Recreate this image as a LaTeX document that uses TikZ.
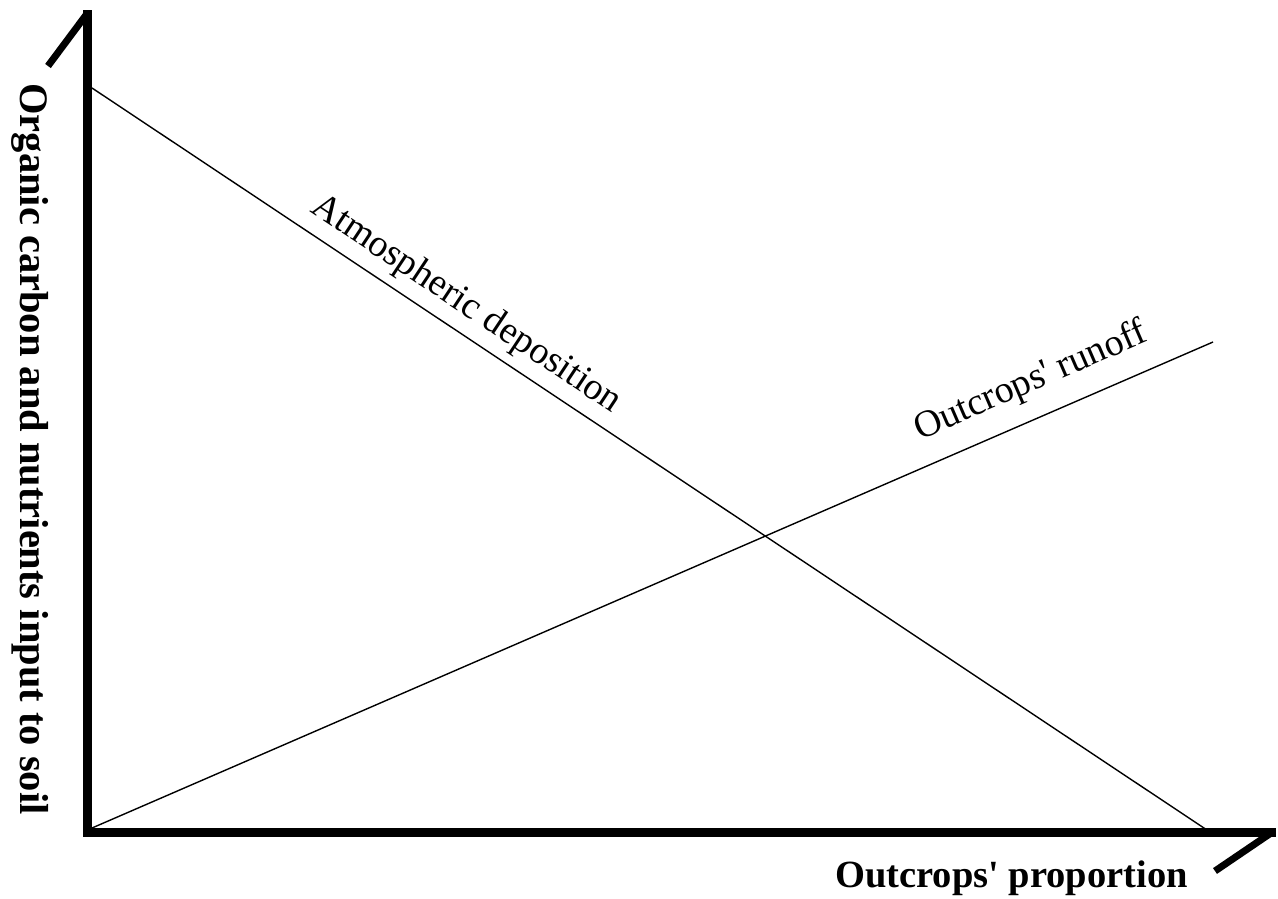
\documentclass[tikz,border=0pt]{standalone}
\usepackage{fontspec}
\setmainfont{Liberation Serif}
\begin{document}
\begin{tikzpicture}[x=1pt,y=1pt,
  axisline/.style={line width=9pt,line cap=butt},
  tickline/.style={line width=7pt,line cap=butt},
  curve/.style={line width=1.4pt},
  lbl/.style={inner sep=0pt,font=\fontsize{38}{40}\selectfont},
  axlbl/.style={inner sep=0pt,font=\fontsize{38.5}{40}\selectfont\bfseries}]
\useasboundingbox[fill=white] (0,0) rectangle (1278,-898);
% axis points
\coordinate (ytop) at (87.5,-10);
\coordinate (ytick) at (48,-66);
\coordinate (ytickstart) at (87.5,-13);
\coordinate (corner) at (87.5,-836.5);
\coordinate (xstart) at (83,-832);
\coordinate (xend) at (1276,-832);
\coordinate (xtickstart) at (1271,-833);
\coordinate (xtick) at (1215,-871);
% data lines
\coordinate (a1) at (92,-88);
\coordinate (a2) at (1207,-830);
\coordinate (r1) at (92,-828);
\coordinate (r2) at (1213,-342);
\draw[axisline] (ytop) -- (corner);
\draw[axisline] (xstart) -- (xend);
\draw[tickline] (ytickstart) -- (ytick);
\draw[tickline] (xtickstart) -- (xtick);
\draw[curve] (a1) -- (a2);
\draw[curve] (r1) -- (r2);
\node[lbl,rotate=-33.64] (atm) at (466,-305) {Atmospheric deposition};
\node[lbl,rotate=23.44] (run) at (1031,-382) {Outcrops\textquotesingle{} runoff};
\node[axlbl,anchor=base] (xl) at (1011.5,-887) {Outcrops\textquotesingle{} proportion};
\node[axlbl,anchor=base,rotate=-90,font=\fontsize{40.5}{42}\selectfont\bfseries] (yl) at (20,-449) {Organic carbon and nutrients input to soil};
\end{tikzpicture}
\end{document}
